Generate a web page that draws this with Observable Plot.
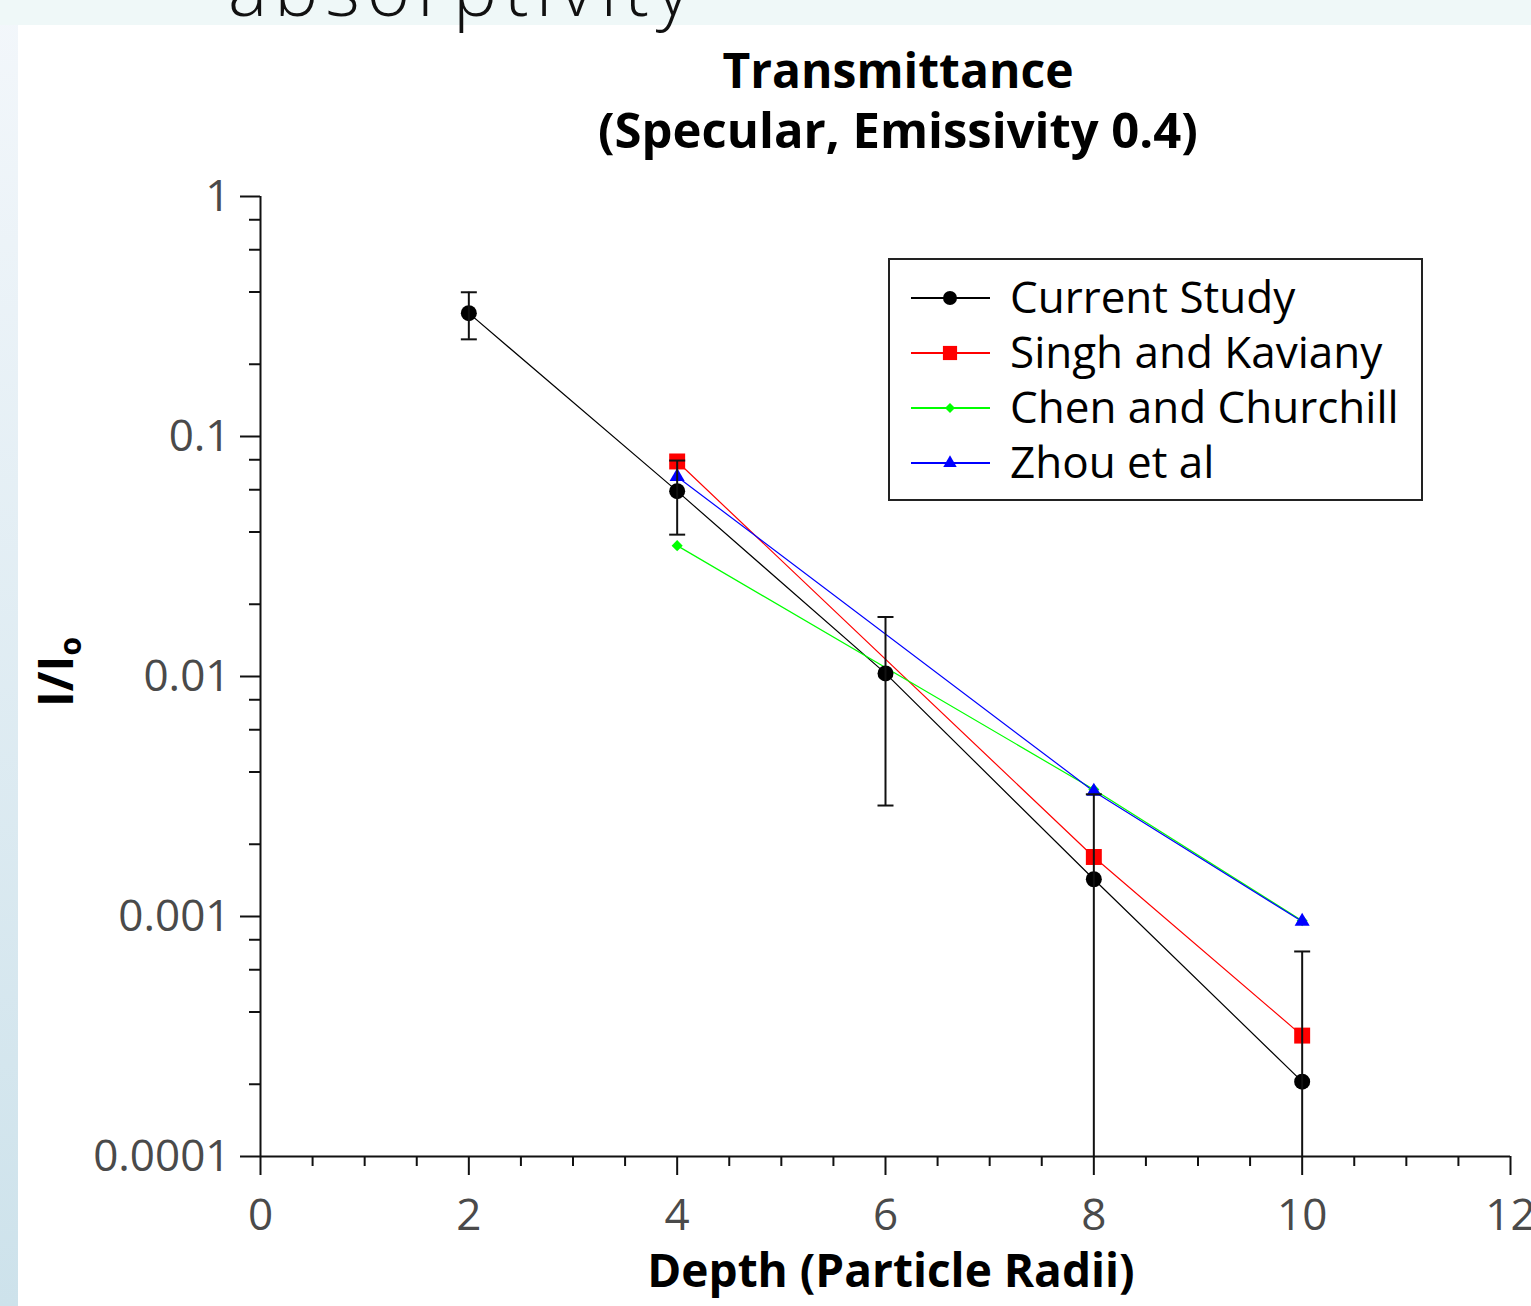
<!DOCTYPE html>
<html>
<head>
<meta charset="utf-8">
<script src="https://cdn.jsdelivr.net/npm/d3@7"></script>
<script src="https://cdn.jsdelivr.net/npm/@observablehq/plot@0.6"></script>
<style>
  html, body { margin: 0; padding: 0; }
  body {
    width: 1531px; height: 1306px; position: relative; overflow: hidden;
    background: linear-gradient(to bottom, #f3f7fb, #cde2eb);
    font-family: "Open Sans", sans-serif;
  }
  #topstrip { position: absolute; left: 0; top: 0; width: 1531px; height: 25px; background: #eff8f8; }
  #panel { position: absolute; left: 18px; top: 25px; width: 1513px; height: 1281px; background: #ffffff; }
  #chart { position: absolute; left: 18px; top: 170px; }
  #overlay { position: absolute; left: 0; top: 0; pointer-events: none; }
</style>
</head>
<body>
<div id="topstrip"></div>
<div id="panel"></div>
<div id="chart"></div>
<svg id="overlay" width="1531" height="1306"></svg>
<script>
// ---------- data ----------
const depth = [2, 4, 6, 8, 10];
const currentStudy = [0.3265, 0.0592, 0.0103, 0.00143, 0.000205];
const currentErr   = [0.0725, 0.0202, 0.0074, 0.0018, 0.00051];

const singhDepth = [4, 8, 10];
const singhKaviany = [0.0787, 0.00177, 0.000319];

const chenDepth = [4, 8, 10];
const chenChurchill = [0.0351, 0.00338, 0.00096];

const zhouDepth = [4, 8, 10];
const zhouEtAl = [0.068, 0.00332, 0.000953];

const seriesNames   = ["Current Study", "Singh and Kaviany", "Chen and Churchill", "Zhou et al"];
const seriesColors  = ["#000000", "#ff0000", "#00ff00", "#0000ff"];
const seriesSymbols = ["circle", "square", "diamond", "triangle"];

const xTicks = [0, 2, 4, 6, 8, 10, 12];
const xTickLabels = ["0", "2", "4", "6", "8", "10", "12"];
const xMinorTicks = [0.5, 1, 1.5, 2.5, 3, 3.5, 4.5, 5, 5.5, 6.5, 7, 7.5, 8.5, 9, 9.5, 10.5, 11, 11.5];
const yTicks = [1, 0.1, 0.01, 0.001, 0.0001];
const yTickLabels = ["1", "0.1", "0.01", "0.001", "0.0001"];
const yMinorTicks = [0.8, 0.6, 0.4, 0.2, 0.08, 0.06, 0.04, 0.02, 0.008, 0.006, 0.004, 0.002, 0.0008, 0.0006, 0.0004, 0.0002];

const titleLines = ["Transmittance", "(Specular, Emissivity 0.4)"];
const xLabel = "Depth (Particle Radii)";
const slideHeading = "absorptivity";

const xDomain = [0, 12];
const yDomain = [0.0001, 1];

// ---------- tables ----------
const current = depth.map((x, i) => ({x, y: currentStudy[i], e: currentErr[i]}));
const seriesData = [
  current.map(d => ({x: d.x, y: d.y})),
  singhDepth.map((x, i) => ({x, y: singhKaviany[i]})),
  chenDepth.map((x, i) => ({x, y: chenChurchill[i]})),
  zhouDepth.map((x, i) => ({x, y: zhouEtAl[i]}))
];
const symbolTypes = {circle: d3.symbolCircle, square: d3.symbolSquare, diamond: d3.symbolDiamond2 || d3.symbolDiamond, triangle: d3.symbolTriangle};
const markerR = [8, 9, 5, 5.6];

const capSymbol = {
  draw(context, size) {
    const w = Math.sqrt(size / Math.PI);
    context.moveTo(-w, 0);
    context.lineTo(w, 0);
  }
};

const lowerErr = d => Math.max(d.y - d.e, yDomain[0]);
const upperErr = d => d.y + d.e;

const marks = [];
// axes
marks.push(Plot.axisX({ticks: xMinorTicks, tickSize: 10, tickFormat: () => "", label: null, stroke: "#111", strokeWidth: 2}));
marks.push(Plot.axisX({ticks: xTicks, tickSize: 19, tickPadding: 23, label: null, stroke: "#111", strokeWidth: 2,
  fill: "#4a4a4a", fontSize: 44, tickFormat: d => xTickLabels[xTicks.indexOf(d)]}));
marks.push(Plot.axisY({ticks: yMinorTicks, tickSize: 11, tickFormat: () => "", label: null, stroke: "#111", strokeWidth: 2}));
marks.push(Plot.axisY({ticks: yTicks, tickSize: 20, tickPadding: 10, label: null, stroke: "#111", strokeWidth: 2,
  fill: "#4a4a4a", fontSize: 44, tickFormat: d => yTickLabels[yTicks.indexOf(d)]}));
marks.push(Plot.ruleX([xDomain[0]], {y1: yDomain[0], y2: yDomain[1], stroke: "#111", strokeWidth: 2}));
marks.push(Plot.ruleY([yDomain[0]], {x1: xDomain[0], x2: xDomain[1], stroke: "#111", strokeWidth: 2}));
// lines
seriesData.forEach((s, i) => {
  marks.push(Plot.line(s, {x: "x", y: "y", stroke: seriesColors[i], strokeWidth: 1.2}));
});
// markers
seriesData.forEach((s, i) => {
  marks.push(Plot.dot(s, {x: "x", y: "y", symbol: symbolTypes[seriesSymbols[i]], r: markerR[i], fill: seriesColors[i], stroke: "none"}));
});
// error bars
marks.push(Plot.ruleX(current, {x: "x", y1: lowerErr, y2: upperErr, stroke: "#111", strokeWidth: 2}));
marks.push(Plot.dot(current, {x: "x", y: upperErr, symbol: capSymbol, r: 8, stroke: "#111", strokeWidth: 2, fill: "none"}));
marks.push(Plot.dot(current.filter(d => d.y - d.e > yDomain[0]), {x: "x", y: lowerErr, symbol: capSymbol, r: 8, stroke: "#111", strokeWidth: 2, fill: "none"}));

const plot = Plot.plot({
  width: 1513,
  height: 1136,
  marginLeft: 242,
  marginRight: 21,
  marginTop: 26,
  marginBottom: 150,
  style: {fontFamily: "Open Sans", fontSize: "44px", background: "transparent", overflow: "visible"},
  x: {domain: xDomain, label: null},
  y: {type: "log", domain: yDomain, label: null},
  marks
});
document.getElementById("chart").append(plot);

// ---------- overlay text: heading, title, labels, legend ----------
const ov = d3.select("#overlay");
ov.append("text").attr("x", 228).attr("y", 16)
  .attr("font-family", "Open Sans").attr("font-weight", 300).attr("font-size", 74)
  .attr("letter-spacing", 7).attr("fill", "#111").text(slideHeading);

ov.selectAll("text.title").data(titleLines).join("text")
  .attr("class", "title")
  .attr("x", 898).attr("y", (d, i) => 88 + i * 60)
  .attr("text-anchor", "middle")
  .attr("font-family", "Open Sans").attr("font-weight", 700).attr("font-size", (d, i) => i === 0 ? 48 : 49)
  .attr("fill", "#000").text(d => d);

ov.append("text").attr("x", 891).attr("y", 1287).attr("text-anchor", "middle")
  .attr("font-family", "Open Sans").attr("font-weight", 700).attr("font-size", 46)
  .attr("fill", "#000").text(xLabel);

const yl = ov.append("text")
  .attr("transform", "translate(73,672) rotate(-90)")
  .attr("text-anchor", "middle")
  .attr("font-family", "Open Sans").attr("font-weight", 700).attr("font-size", 48)
  .attr("fill", "#000");
yl.append("tspan").text("I/I");
yl.append("tspan").attr("font-size", 30).attr("dy", 8).text("o");

// legend
const lg = ov.append("g");
lg.append("rect").attr("x", 889).attr("y", 259).attr("width", 533).attr("height", 241)
  .attr("fill", "#fff").attr("stroke", "#222").attr("stroke-width", 2);
const legendR = [7, 8, 4.5, 5];
seriesNames.forEach((name, i) => {
  const cy = 298 + i * 55;
  lg.append("line").attr("x1", 911).attr("x2", 990).attr("y1", cy).attr("y2", cy)
    .attr("stroke", seriesColors[i]).attr("stroke-width", 2);
  lg.append("path").attr("transform", `translate(950,${cy})`)
    .attr("d", d3.symbol(symbolTypes[seriesSymbols[i]], Math.PI * legendR[i] * legendR[i])())
    .attr("fill", seriesColors[i]);
  lg.append("text").attr("x", 1010).attr("y", cy + 15)
    .attr("font-family", "Open Sans").attr("font-size", 44).attr("fill", "#000").text(name);
});
</script>
</body>
</html>
